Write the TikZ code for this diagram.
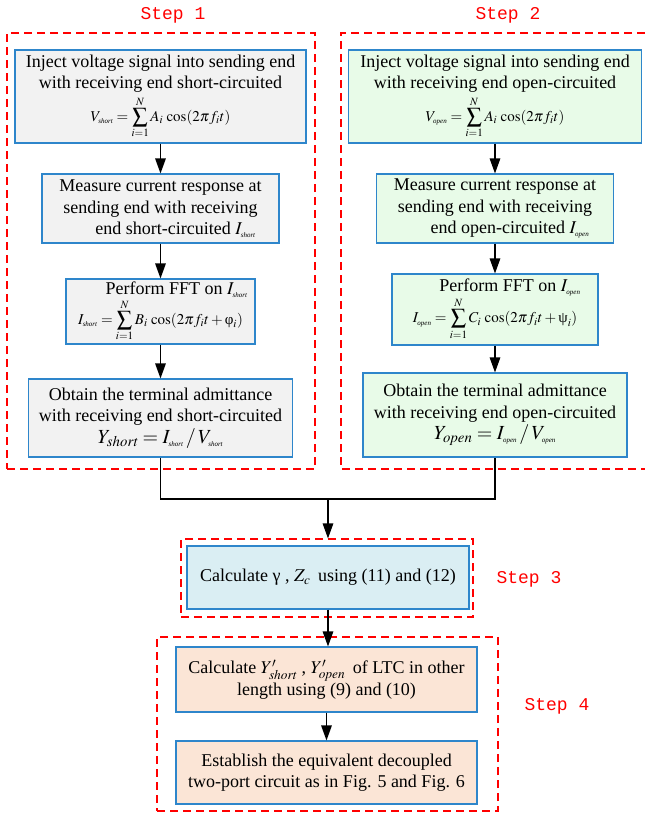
\documentclass[tikz,border=0pt]{standalone}
\usepackage{mathptmx}
\usepackage[no-math]{fontspec}
\setmainfont{Liberation Serif}
\newfontfamily\stepfont{Liberation Mono}
\usetikzlibrary{arrows.meta}
\definecolor{bordblue}{RGB}{46,134,203}
\definecolor{fillgray}{RGB}{242,242,242}
\definecolor{fillgreen}{RGB}{232,251,232}
\definecolor{fillblue}{RGB}{218,238,243}
\definecolor{fillpeach}{RGB}{251,229,214}
\newcommand{\tinysub}[1]{\mbox{\fontsize{7}{7}\selectfont\itshape #1}}
\newcommand{\fml}{\fontsize{15}{15}\selectfont}
\begin{document}
\begin{tikzpicture}[x=1pt,y=-1pt,
  box/.style={draw=bordblue,line width=1.1pt,align=center,inner sep=2pt,
    font=\fontsize{18}{21.5}\selectfont},
  frame/.style={draw=red,dash pattern=on 8pt off 5pt,line width=1.1pt},
  conn/.style={line width=1.3pt},
  arr/.style={line width=1.3pt,-{Triangle[length=15pt,width=10.5pt]}},
  steplbl/.style={text=red,font=\stepfont\fontsize{18}{18}\selectfont}]
\useasboundingbox (0,0) rectangle (645,815);
% frames
\node[frame,minimum width=308pt,minimum height=436pt] (f1) at (161,251) {};
\draw[frame] (645,33) -- (341,33) -- (341,469) -- (645,469);
\node[frame,minimum width=292pt,minimum height=78pt] (f3) at (327,578) {};
\node[frame,minimum width=341pt,minimum height=174pt] (f4) at (327.5,724) {};
% step labels
\node[steplbl] (l1) at (173,15) {Step 1};
\node[steplbl] (l2) at (508,15) {Step 2};
\node[steplbl] (l3) at (529,579) {Step 3};
\node[steplbl] (l4) at (557,706) {Step 4};
% step 1
\node[box,fill=fillgray,minimum width=291pt,minimum height=93pt] (s1a) at (160.5,96.5)
  {Inject voltage signal into sending end\\with receiving end short-circuited\\[3pt]
   {\fml$V_{\tinysub{short}} = \displaystyle\sum_{i=1}^{N} A_{i}\,\cos(2\pi f_{i}t)$}};
\node[box,fill=fillgray,minimum width=237pt,minimum height=69pt] (s1b) at (160.5,208.5)
  {Measure current response at\\sending end with receiving\\\hspace*{30pt}end short-circuited $I_{\tinysub{short}}$};
\node[box,fill=fillgray,minimum width=189pt,minimum height=65pt] (s1c) at (160.5,311.5)
  {\hspace*{32pt}Perform FFT on $I_{\tinysub{short}}$\\[1pt]
   {\fml$I_{\tinysub{short}} = \displaystyle\sum_{i=1}^{N} B_{i}\,\cos(2\pi f_{i}t + \mbox{φ}_{i})$}};
\node[box,fill=fillgray,minimum width=264pt,minimum height=78pt] (s1d) at (160.5,418)
  {Obtain the terminal admittance\\with receiving end short-circuited\\
   {\fontsize{20}{22}\selectfont$Y_{\mathit{short}} = I_{\tinysub{short}}\,/\,V_{\tinysub{short}}$}};
% step 2
\node[box,fill=fillgreen,minimum width=293pt,minimum height=93pt] (s2a) at (495,96.5)
  {Inject voltage signal into sending end\\with receiving end open-circuited\\[3pt]
   {\fml$V_{\tinysub{open}} = \displaystyle\sum_{i=1}^{N} A_{i}\,\cos(2\pi f_{i}t)$}};
\node[box,fill=fillgreen,minimum width=237pt,minimum height=69pt] (s2b) at (495,208.5)
  {Measure current response at\\sending end with receiving\\\hspace*{30pt}end open-circuited $I_{\tinysub{open}}$};
\node[box,fill=fillgreen,minimum width=206pt,minimum height=71pt] (s2c) at (495,309.5)
  {\hspace*{30pt}Perform FFT on $I_{\tinysub{open}}$\\[1pt]
   {\fml$I_{\tinysub{open}} = \displaystyle\sum_{i=1}^{N} C_{i}\,\cos(2\pi f_{i}t + \mbox{ψ}_{i})$}};
\node[box,fill=fillgreen,minimum width=264pt,minimum height=84pt] (s2d) at (495,415)
  {Obtain the terminal admittance\\with receiving end open-circuited\\
   {\fontsize{20}{22}\selectfont$Y_{\mathit{open}} = I_{\tinysub{open}}\,/\,V_{\tinysub{open}}$}};
% step 3
\node[box,fill=fillblue,minimum width=282pt,minimum height=63pt] (s3) at (328,577.5)
  {Calculate γ , $Z_{c}$\, using (11) and (12)};
% step 4
\node[box,fill=fillpeach,minimum width=301pt,minimum height=65pt] (s4a) at (326.5,679.5)
  {Calculate $Y^{\prime}_{\mathit{short}}$ , $Y^{\prime}_{\mathit{open}}$\, of LTC in other\\length using (9) and (10)};
\node[box,fill=fillpeach,minimum width=301pt,minimum height=63pt] (s4b) at (326.5,772.5)
  {Establish the equivalent decoupled\\two-port circuit as in Fig. 5 and Fig. 6};
% connectors
\draw[arr] (s1a) -- (s1b);
\draw[arr] (s1b) -- (s1c);
\draw[arr] (s1c) -- (s1d);
\draw[arr] (s2a) -- (s2b);
\draw[arr] (s2b) -- (s2c);
\draw[arr] (s2c) -- (s2d);
\coordinate (m) at (328,499);
\draw[conn] (s1d.south) |- (m) -| (s2d.south);
\draw[arr] (m) -- (m |- f3.north);
\draw[arr] (s3.south) -- (s3.south |- s4a.north);
\draw[arr] (s4a) -- (s4b);
\end{tikzpicture}
\end{document}
